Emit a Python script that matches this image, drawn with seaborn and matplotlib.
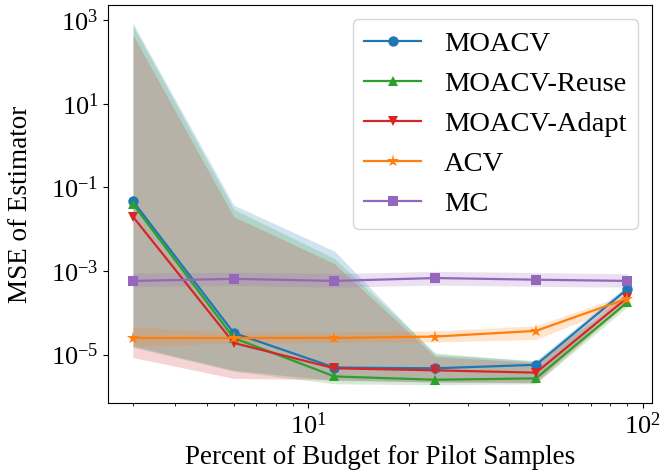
import matplotlib
matplotlib.use("Agg")
import matplotlib.pyplot as plt
import numpy as np
import pandas as pd
import seaborn as sns

# percent of budget spent on pilot samples
pilot_pct = [3, 6, 12, 24, 48, 90]

# mean squared error of each estimator
moacv = [4.7e-2, 3.3e-5, 4.9e-6, 4.7e-6, 5.7e-6, 3.7e-4]
moacv_lo = [1.6e-5, 4.2e-6, 2.4e-6, 2.2e-6, 2.2e-6, 2.8e-4]
moacv_hi = [8.5e2, 3.8e-2, 3.0e-3, 1.0e-5, 7.2e-6, 4.6e-4]

moacv_reuse = [4.0e-2, 2.5e-5, 3.0e-6, 2.5e-6, 2.7e-6, 1.8e-4]
moacv_reuse_lo = [1.5e-5, 4.0e-6, 2.0e-6, 1.9e-6, 2.0e-6, 1.4e-4]
moacv_reuse_hi = [7.5e2, 3.0e-2, 2.0e-3, 1.1e-5, 6.8e-6, 2.4e-4]

moacv_adapt = [2.0e-2, 1.9e-5, 4.7e-6, 4.2e-6, 3.7e-6, 2.3e-4]
moacv_adapt_lo = [8.5e-6, 2.7e-6, 2.5e-6, 2.2e-6, 2.1e-6, 1.7e-4]
moacv_adapt_hi = [4.5e2, 2.0e-2, 1.5e-3, 9.0e-6, 6.5e-6, 3.0e-4]

acv = [2.5e-5, 2.5e-5, 2.5e-5, 2.7e-5, 3.7e-5, 2.2e-4]
acv_lo = [1.55e-5, 1.9e-5, 1.95e-5, 2.0e-5, 2.3e-5, 1.7e-4]
acv_hi = [4.6e-5, 3.4e-5, 3.5e-5, 3.7e-5, 4.9e-5, 2.8e-4]

mc = [5.8e-4, 6.5e-4, 5.8e-4, 6.8e-4, 6.2e-4, 5.8e-4]
mc_lo = [4.2e-4, 4.5e-4, 4.1e-4, 4.6e-4, 4.3e-4, 4.1e-4]
mc_hi = [8.9e-4, 9.4e-4, 8.7e-4, 9.8e-4, 9.2e-4, 8.6e-4]

labels = ["MOACV", "MOACV-Reuse", "MOACV-Adapt", "ACV", "MC"]
series = [moacv, moacv_reuse, moacv_adapt, acv, mc]
lows = [moacv_lo, moacv_reuse_lo, moacv_adapt_lo, acv_lo, mc_lo]
highs = [moacv_hi, moacv_reuse_hi, moacv_adapt_hi, acv_hi, mc_hi]
colors = ["C0", "C2", "C3", "C1", "C4"]
markers = ["o", "^", "v", "*", "s"]

# plain matplotlib look, times-like font
plt.rcParams["font.family"] = ["Liberation Serif", "DejaVu Serif"]
plt.rcParams["mathtext.fontset"] = "stix"

fig = plt.figure(figsize=(6.6, 4.75), dpi=100)
ax = fig.add_axes([0.164, 0.152, 0.824, 0.837])

for y, lo, hi, lab, c, m in zip(series, lows, highs, labels, colors, markers):
    df = pd.DataFrame({"pct": pilot_pct, "mse": y})
    sns.lineplot(data=df, x="pct", y="mse", ax=ax, color=c, marker=m,
                 markersize=9.5 if m == "*" else 7.5, markeredgewidth=0,
                 linewidth=1.6, label=lab)
    ax.fill_between(pilot_pct, lo, hi, color=c, alpha=0.2, linewidth=0)

ax.set_xscale("log")
ax.set_yscale("log")
ax.yaxis.set_minor_locator(matplotlib.ticker.NullLocator())
ax.xaxis.set_minor_formatter(matplotlib.ticker.NullFormatter())

ax.set_xlabel("Percent of Budget for Pilot Samples", fontsize=19.5)
ax.set_ylabel("MSE of Estimator", fontsize=19.5)
ax.yaxis.set_label_coords(-0.138, 0.5)
ax.tick_params(axis="both", which="major", labelsize=19)
ax.legend(loc="upper right", fontsize=20.5, handlelength=2.0, framealpha=0.8)

fig.savefig("out.png", dpi=100)
